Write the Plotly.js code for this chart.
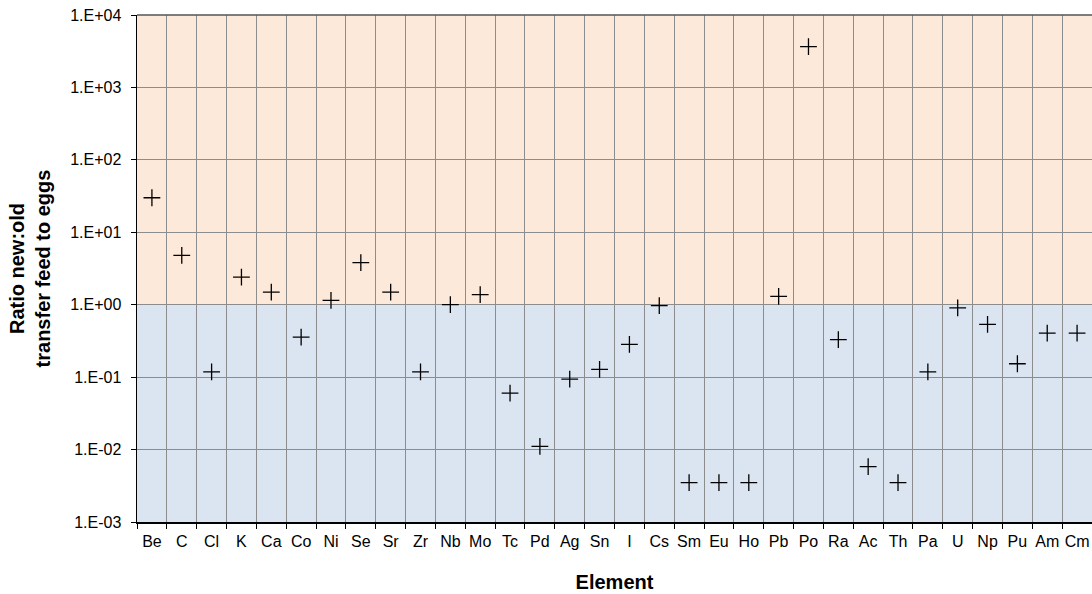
<!DOCTYPE html>
<html>
<head>
<meta charset="utf-8">
<script src="https://cdn.plot.ly/plotly-3.0.1.min.js"></script>
<style>html,body{margin:0;padding:0;background:#fff;}#chart{width:1092px;height:594px;}</style>
</head>
<body>
<div id="chart"></div>
<script>
const elements = ["Be","C","Cl","K","Ca","Co","Ni","Se","Sr","Zr","Nb","Mo","Tc","Pd","Ag","Sn","I","Cs","Sm","Eu","Ho","Pb","Po","Ra","Ac","Th","Pa","U","Np","Pu","Am","Cm"];
const ratios = [30.0,4.8,0.118,2.4,1.49,0.358,1.15,3.82,1.49,0.118,1.0,1.38,0.060,0.0111,0.094,0.128,0.283,0.97,0.0035,0.0035,0.0035,1.30,3670,0.329,0.0058,0.0035,0.118,0.907,0.535,0.153,0.404,0.404];
const yTickVals = [0.001,0.01,0.1,1,10,100,1000,10000];
const yTickText = ["1.E-03","1.E-02","1.E-01","1.E+00","1.E+01","1.E+02","1.E+03","1.E+04"];

const font = "Liberation Sans, Arial, sans-serif";

const trace = {
  type: "scatter",
  mode: "markers",
  x: elements,
  y: ratios,
  marker: {symbol: "cross-thin-open", size: 12, color: "#000", line: {color: "#000", width: 1.3}},
  hoverinfo: "x+y",
  cliponaxis: false
};

const layout = {
  width: 1092, height: 594,
  margin: {l: 137, r: 0, t: 15, b: 72},
  paper_bgcolor: "#fff",
  plot_bgcolor: "#fff",
  showlegend: false,
  font: {family: font, size: 16, color: "#000"},
  xaxis: {
    type: "category",
    categoryorder: "array",
    categoryarray: elements,
    range: [-0.5, elements.length - 0.5],
    tickson: "boundaries",
    ticks: "outside",
    ticklen: 5,
    tickcolor: "#000",
    tickangle: 0,
    showgrid: true,
    gridcolor: "#8c8c8c",
    gridwidth: 1,
    showline: true,
    linecolor: "#000",
    linewidth: 1.5,
    tickfont: {family: font, size: 16, color: "#000"},
    ticklabelstandoff: 4,
    title: {text: "Element", font: {family: font, size: 20, color: "#000", weight: "bold"}, standoff: 26},
    zeroline: false,
    fixedrange: true
  },
  yaxis: {
    type: "log",
    range: [-3, 4],
    tickmode: "array",
    tickvals: yTickVals,
    ticktext: yTickText,
    ticks: "outside",
    ticklen: 5,
    tickcolor: "#000",
    showgrid: true,
    gridcolor: "#8c8c8c",
    gridwidth: 1,
    showline: true,
    linecolor: "#000",
    linewidth: 1.5,
    tickfont: {family: font, size: 16, color: "#000"},
    ticklabelstandoff: 6,
    title: {text: "Ratio new:old<br>transfer feed to eggs", font: {family: font, size: 20, color: "#000", weight: "bold"}, standoff: 14},
    zeroline: false,
    fixedrange: true
  },
  shapes: [
    {type: "rect", xref: "paper", yref: "y", x0: 0, x1: 1, y0: 1, y1: 10000, fillcolor: "#FDE9D9", line: {width: 0}, layer: "below"},
    {type: "rect", xref: "paper", yref: "y", x0: 0, x1: 1, y0: 0.001, y1: 1, fillcolor: "#DBE5F1", line: {width: 0}, layer: "below"},
    {type: "line", xref: "paper", yref: "paper", x0: 0, x1: 1, y0: 1, y1: 1, line: {color: "#555", width: 1.5}}
  ]
};

Plotly.newPlot("chart", [trace], layout, {displayModeBar: false, staticPlot: true});
</script>
</body>
</html>
